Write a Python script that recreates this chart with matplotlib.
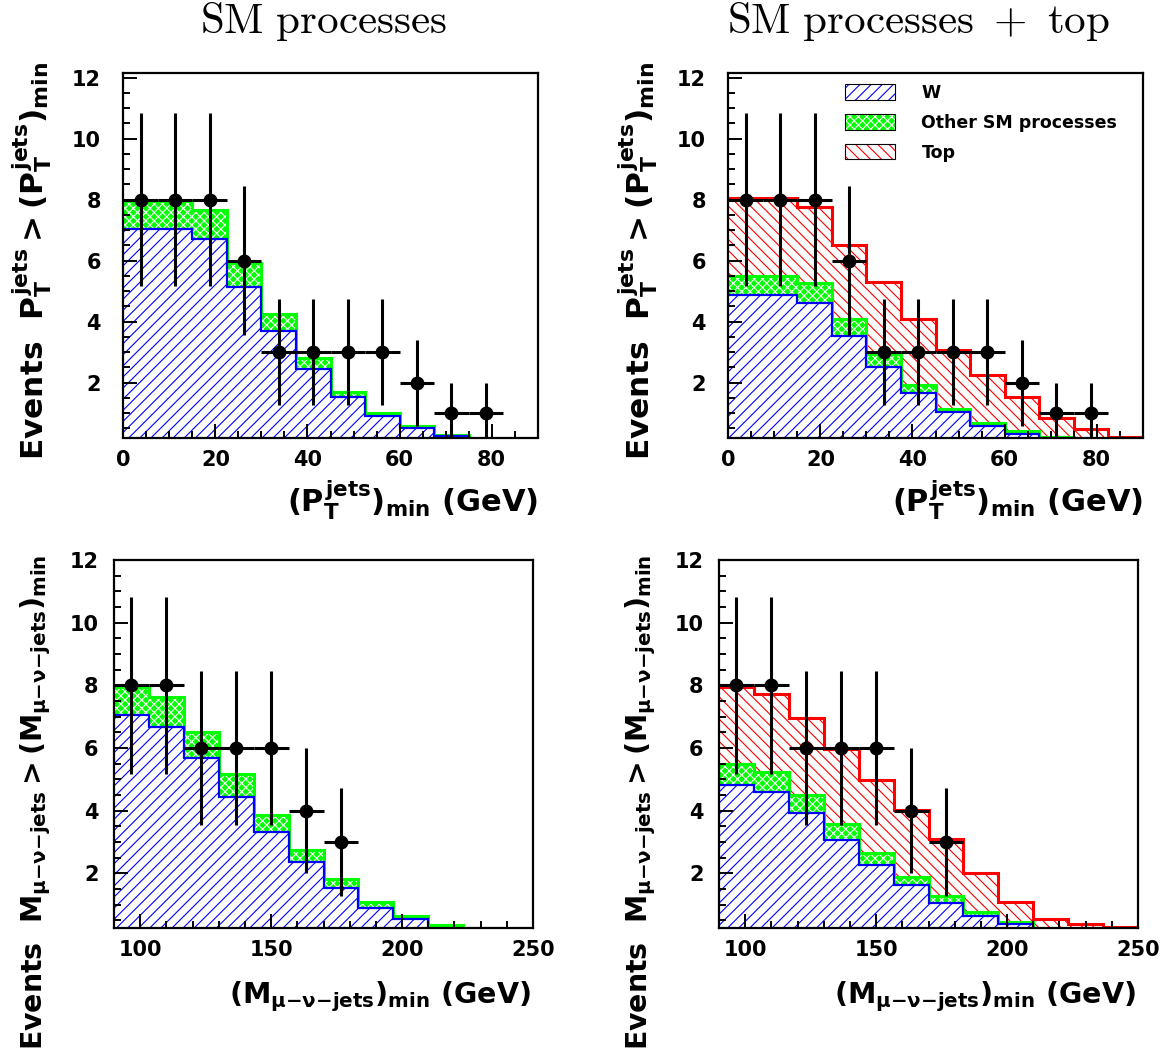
import numpy as np
import matplotlib
matplotlib.use('Agg')
import matplotlib.pyplot as plt
from matplotlib.patches import Patch
from matplotlib.legend_handler import HandlerTuple
from matplotlib.ticker import MultipleLocator

plt.rcParams['font.family'] = 'DejaVu Sans'
plt.rcParams['font.weight'] = 'bold'
plt.rcParams['mathtext.fontset'] = 'custom'
plt.rcParams['mathtext.rm'] = 'DejaVu Sans:bold'
plt.rcParams['mathtext.it'] = 'DejaVu Sans:bold'
plt.rcParams['mathtext.bf'] = 'DejaVu Sans:bold'
plt.rcParams['mathtext.sf'] = 'DejaVu Sans:bold'
plt.rcParams['hatch.linewidth'] = 0.8

# binning
pt_edges = np.linspace(0, 90, 13)
m_edges = np.linspace(90, 250, 13)

# data (same in both columns)
pt_data = np.array([8, 8, 8, 6, 3, 3, 3, 3, 2, 1, 1, 0])
pt_err = np.array([2.83, 2.83, 2.83, 2.45, 1.73, 1.73, 1.73, 1.73, 1.41, 1.0, 1.0, 0])
m_data = np.array([8, 8, 6, 6, 6, 4, 3, 0, 0, 0, 0, 0])
m_err = np.array([2.83, 2.83, 2.45, 2.45, 2.45, 2.0, 1.73, 0, 0, 0, 0, 0])

# SM processes, PT(jets)
pt_w_sm = np.array([7.05, 7.05, 6.71, 5.15, 3.68, 2.44, 1.53, 0.90, 0.52, 0.25, 0.10, 0.05])
pt_other_sm = np.array([0.90, 0.90, 0.95, 0.78, 0.58, 0.35, 0.15, 0.11, 0.06, 0.02, 0.01, 0.0])

# SM processes + top, PT(jets)
pt_w_top = np.array([4.86, 4.86, 4.60, 3.52, 2.51, 1.66, 1.04, 0.58, 0.31, 0.15, 0.05, 0.02])
pt_other_top = np.array([0.65, 0.65, 0.67, 0.57, 0.44, 0.26, 0.11, 0.10, 0.10, 0.05, 0.02, 0.01])
pt_top = np.array([2.54, 2.54, 2.50, 2.43, 2.34, 2.16, 1.91, 1.56, 1.12, 0.65, 0.40, 0.20])

# SM processes, M(mu-nu-jets)
m_w_sm = np.array([7.04, 6.67, 5.69, 4.44, 3.30, 2.36, 1.53, 0.90, 0.54, 0.22, 0.12, 0.05])
m_other_sm = np.array([0.89, 0.94, 0.82, 0.74, 0.55, 0.38, 0.30, 0.19, 0.09, 0.11, 0.12, 0.05])

# SM processes + top, M(mu-nu-jets)
m_w_top = np.array([4.83, 4.60, 3.91, 3.06, 2.26, 1.62, 1.04, 0.63, 0.37, 0.15, 0.08, 0.03])
m_other_top = np.array([0.65, 0.64, 0.60, 0.52, 0.37, 0.27, 0.23, 0.14, 0.08, 0.07, 0.07, 0.02])
m_top = np.array([2.47, 2.49, 2.46, 2.38, 2.36, 2.12, 1.82, 1.24, 0.64, 0.32, 0.23, 0.24])

titles = [r'$\mathrm{SM\ processes}$', r'$\mathrm{SM\ processes\ +\ top}$']
pt_xlabel = r'$(P_T^{jets})_{min}\ (GeV)$'
pt_ylabel = r'$Events\ \ P_T^{jets} > (P_T^{jets})_{min}$'
m_xlabel = r'$(M_{\mu{-}\nu{-}jets})_{min}\ (GeV)$'
m_ylabel = r'$Events\ \ M_{\mu{-}\nu{-}jets} > (M_{\mu{-}\nu{-}jets})_{min}$'
legend_labels = ['W', 'Other SM processes', 'Top']

W, H = 1175, 1057
fig = plt.figure(figsize=(W / 100, H / 100), dpi=100)


def px_axes(left, top, right, bottom):
    return fig.add_axes([left / W, 1 - bottom / H, (right - left) / W, (bottom - top) / H])


def draw(ax, edges, data, err, w, other, top=None):
    c1 = w
    c2 = w + other
    if top is not None:
        c3 = c2 + top
        ax.stairs(c3, edges, baseline=c2, fill=True, facecolor='white',
                  edgecolor='red', hatch='\\\\\\', linewidth=0)
        ax.stairs(c3, edges, baseline=None, color='red', linewidth=2.2)
    ax.stairs(c2, edges, baseline=c1, fill=True, facecolor='#00ff00',
              edgecolor='white', hatch='xxxx', linewidth=0)
    ax.stairs(c2, edges, baseline=None, color='#00ff00', linewidth=2.2)
    ax.stairs(c1, edges, baseline=0, fill=True, facecolor='white',
              edgecolor='blue', hatch='///', linewidth=0)
    ax.stairs(c1, edges, baseline=None, color='blue', linewidth=1.6)

    centers = 0.5 * (edges[1:] + edges[:-1])
    half = 0.5 * (edges[1:] - edges[:-1])
    ok = data > 0
    ax.errorbar(centers[ok], data[ok], xerr=half[ok], yerr=err[ok], fmt='o',
                color='black', ms=9, elinewidth=2.2, capsize=0, zorder=5)

    ax.set_xlim(edges[0], edges[-1])
    ax.yaxis.set_major_locator(MultipleLocator(2))
    ax.yaxis.set_minor_locator(MultipleLocator(0.5))
    ax.tick_params(which='both', direction='in', top=False, right=False,
                   labelsize=15, width=1.4)
    ax.tick_params(which='major', length=10)
    ax.tick_params(which='minor', length=5)
    for s in ax.spines.values():
        s.set_linewidth(1.6)


# top row: PT
ax1 = px_axes(123.3, 73, 537.7, 437.5)
ax2 = px_axes(728.3, 73, 1142.7, 437.5)
draw(ax1, pt_edges, pt_data, pt_err, pt_w_sm, pt_other_sm)
draw(ax2, pt_edges, pt_data, pt_err, pt_w_top, pt_other_top, pt_top)
for ax in (ax1, ax2):
    ax.set_ylim(0.2, 12.15)
    ax.xaxis.set_major_locator(MultipleLocator(20))
    ax.xaxis.set_minor_locator(MultipleLocator(5))
    ax.tick_params(axis='x', pad=9)
    ax.tick_params(axis='y', pad=16)

# bottom row: M
ax3 = px_axes(114, 560, 533, 928)
ax4 = px_axes(719, 560, 1138, 928)
draw(ax3, m_edges, m_data, m_err, m_w_sm, m_other_sm)
draw(ax4, m_edges, m_data, m_err, m_w_top, m_other_top, m_top)
for ax in (ax3, ax4):
    ax.set_ylim(0.25, 12.0)
    ax.xaxis.set_major_locator(MultipleLocator(50))
    ax.xaxis.set_minor_locator(MultipleLocator(10))
    ax.tick_params(axis='x', pad=9)
    ax.tick_params(axis='y', pad=11)

# axis titles, ROOT style (aligned to the end of the axis)
for dx in (0, 605):
    fig.text((44 + dx) / W, 1 - 62 / H, pt_ylabel, rotation=90, rotation_mode='anchor',
             ha='right', va='baseline', fontsize=22.5)
    fig.text((537.7 + dx) / W, 1 - 512 / H, pt_xlabel, ha='right', va='baseline', fontsize=22)
    fig.text((42 + dx) / W, 1 - 555 / H, m_ylabel, rotation=90, rotation_mode='anchor',
             ha='right', va='baseline', fontsize=20.4)
    fig.text((531 + dx) / W, 1 - 1003 / H, m_xlabel, ha='right', va='baseline', fontsize=20.5)

fig.text(323 / W, 1 - 33 / H, titles[0], math_fontfamily='cm', fontsize=31, ha='center', va='baseline')
fig.text(918 / W, 1 - 33 / H, titles[1], math_fontfamily='cm', fontsize=31, ha='center', va='baseline')

# legend
handles = [
    (Patch(facecolor='white', edgecolor='blue', hatch='///', linewidth=0),
     Patch(facecolor='none', edgecolor='black', linewidth=0.8)),
    (Patch(facecolor='#00ff00', edgecolor='white', hatch='xxxx', linewidth=0),
     Patch(facecolor='none', edgecolor='black', linewidth=0.8)),
    (Patch(facecolor='white', edgecolor='red', hatch='\\\\\\', linewidth=0),
     Patch(facecolor='none', edgecolor='black', linewidth=0.8)),
]
ax2.legend(handles, legend_labels, handler_map={tuple: HandlerTuple(ndivide=1, pad=0)},
           loc='upper left', bbox_to_anchor=((845 - 728.3) / 414.4, (437.5 - 84) / 364.5),
           frameon=False, borderpad=0, borderaxespad=0, fontsize=12.5,
           handlelength=2.9, handleheight=1.0, handletextpad=1.5, labelspacing=0.68)

fig.savefig('out.png', dpi=100)
